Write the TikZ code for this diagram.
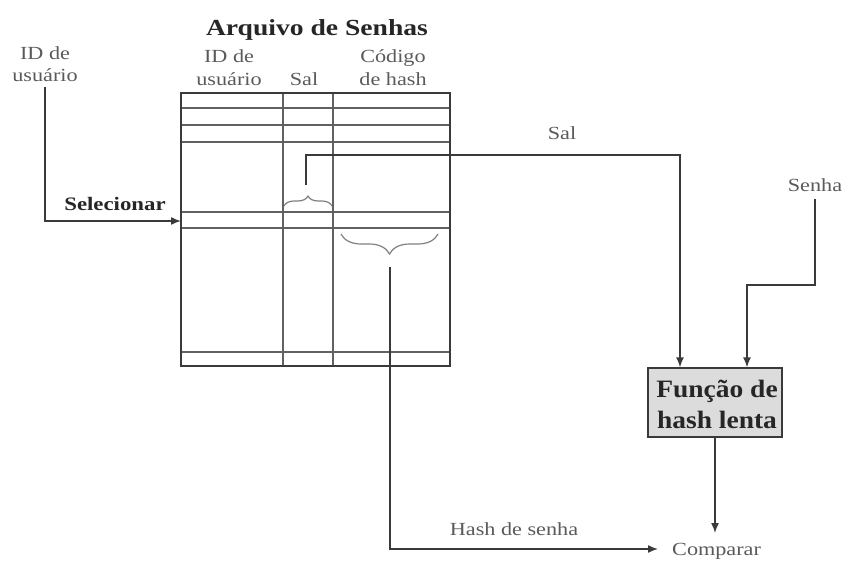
\documentclass[tikz,border=0pt]{standalone}
\usepackage{fontspec}
\setmainfont{Liberation Serif}
\newfontfamily\labf[FakeStretch=1.2]{Liberation Serif}
\newfontfamily\boxf[FakeStretch=1.1]{Liberation Serif}
\usetikzlibrary{decorations.pathreplacing,arrows.meta}
\definecolor{ln}{HTML}{3A3A3A}
\definecolor{tx}{HTML}{5A5A5A}
\definecolor{boxfill}{HTML}{DCDCDC}
\tikzset{
  lbl/.style={text=tx,font=\labf\fontsize{18.5}{22}\selectfont,inner sep=0pt,anchor=base},
  wire/.style={draw=ln,line width=1.5pt},
  arr/.style={wire,-{Latex[length=10pt,width=8pt]}},
  tline/.style={draw=ln!80,line width=1.3pt},
  brc/.style={draw=ln!65,line width=1.2pt,decorate,decoration={brace,amplitude=#1}}
}
\begin{document}
\begin{tikzpicture}[x=1pt,y=-1pt]
\useasboundingbox (0,0) rectangle (846,565);
% table
\foreach \y in {108,125,142,212,228,352}
  \draw[tline] (181,\y) -- (450,\y);
\draw[tline] (283,93) -- (283,366);
\draw[tline] (333,93) -- (333,366);
\draw[draw=ln,line width=2pt] (181,93) rectangle (450,366);
\coordinate (tleft) at (181,221);
% labels
\node[anchor=base,inner sep=0pt,font=\labf\bfseries\fontsize{23}{26}\selectfont,text=black!85] (title) at (317,35) {Arquivo de Senhas};
\node[lbl] (h1a) at (229,62) {ID de};
\node[lbl] (h1b) at (229,85) {usuário};
\node[lbl] (h2) at (304,85) {Sal};
\node[lbl] (h3a) at (393,62) {Código};
\node[lbl] (h3b) at (393,85) {de hash};
\node[lbl] (uida) at (45,59) {ID de};
\node[lbl] (uidb) at (45,81) {usuário};
\node[anchor=base,inner sep=0pt,font=\labf\bfseries\fontsize{19}{22}\selectfont,text=black!85] (sel) at (115,210) {Selecionar};
\node[lbl] (sal) at (562,139) {Sal};
\node[lbl] (senha) at (815,191) {Senha};
\node[lbl] (hs) at (514,535) {Hash de senha};
\node[lbl,anchor=base west] (cmp) at (672,555) {Comparar};
\node[draw=ln,line width=1.3pt,fill=boxfill,minimum width=134pt,minimum height=69pt] (fn) at (715,402.5) {};
\node[anchor=base,inner sep=0pt,font=\boxf\bfseries\fontsize{25}{28}\selectfont,text=black!85] (fn1) at (717,397) {Função de};
\node[anchor=base,inner sep=0pt,font=\boxf\bfseries\fontsize{25}{28}\selectfont,text=black!85] (fn2) at (717,428) {hash lenta};
% braces
\draw[brc=10pt] (284,206) -- (332,206);
\coordinate (saltip) at (306,196);
\draw[brc=20pt] (438,234) -- (341,234);
\coordinate (hashtip) at (390,255);
\coordinate (cmptop) at (715,533);
\coordinate (cmpin) at (658,549);
% connectors
\draw[arr] ([yshift=-6pt]uidb.south) |- (tleft);
\draw[arr] ([yshift=11pt]saltip) -- (306,155) -| ([xshift=-35pt]fn.north);
\draw[arr] ([yshift=-8pt]senha.south) |- (747,285) -- ([xshift=32pt]fn.north);
\draw[arr] (fn.south) -- (cmptop);
\draw[arr] ([yshift=-12pt]hashtip) |- (cmpin);
\end{tikzpicture}
\end{document}
